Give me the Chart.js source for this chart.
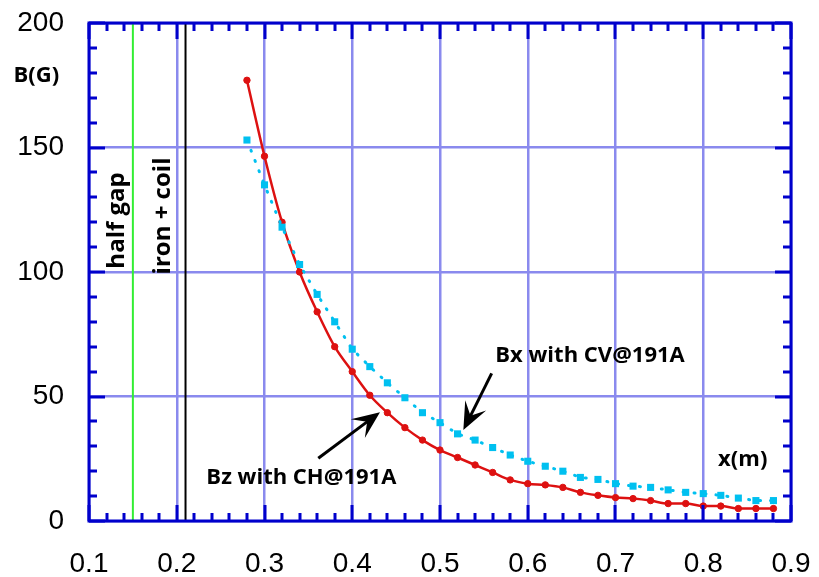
<!DOCTYPE html>
<html>
<head>
<meta charset="utf-8">
<script src="https://cdn.jsdelivr.net/npm/chart.js@4"></script>
<style>
  html, body { margin: 0; padding: 0; background: #fff; }
  #wrap { width: 819px; height: 577px; }
</style>
</head>
<body>
<div id="wrap"><canvas id="fieldChart"></canvas></div>
<script>
// measured positions (m)
const xPos = [0.28, 0.30, 0.32, 0.34, 0.36, 0.38, 0.40, 0.42, 0.44, 0.46, 0.48,
              0.50, 0.52, 0.54, 0.56, 0.58, 0.60, 0.62, 0.64, 0.66, 0.68,
              0.70, 0.72, 0.74, 0.76, 0.78, 0.80, 0.82, 0.84, 0.86, 0.88];
// Bz with CH@191A (G)
const bz = [177, 146.5, 120, 100, 84, 70, 60, 50.5, 43.5, 37.5, 32.5,
            28.5, 25.5, 22.5, 19.5, 16.5, 15, 14.5, 13.5, 11.5, 10.3,
            9.4, 9, 8.2, 7, 7, 6, 6, 5, 5, 5];
// Bx with CV@191A (G)
const bx = [153, 135, 118, 103, 91, 80, 69, 62, 55.5, 49.5, 43.5,
            39.5, 35, 32.5, 29.5, 26.5, 24, 22, 20, 17.5, 16.7,
            15, 14, 13.5, 12.5, 11.5, 11, 10.3, 9.2, 8.2, 8.2];
// boundary markers
const halfGapX = 0.15;
const ironCoilX = 0.21;

const axisBlue = '#0000cc';
const gridBlue = '#8a8aee';

const toPts = (xs, ys) => xs.map((x, i) => ({ x: x, y: ys[i] }));

// frame, inward ticks, text and arrows
const decor = {
  id: 'decor',
  afterDatasetsDraw(chart) {
    const { ctx, chartArea: a, scales: { x, y } } = chart;
    ctx.save();
    ctx.strokeStyle = axisBlue;
    ctx.lineWidth = 3;
    ctx.lineCap = 'butt';
    // x ticks every 0.02, major every 0.1
    for (let i = 0; i <= 40; i++) {
      const v = 0.1 + i * 0.02;
      const px = Math.round(x.getPixelForValue(v));
      const len = i % 5 === 0 ? 16 : 8;
      ctx.beginPath();
      ctx.moveTo(px, a.bottom); ctx.lineTo(px, a.bottom - len);
      ctx.moveTo(px, a.top); ctx.lineTo(px, a.top + len);
      ctx.stroke();
    }
    // y ticks every 10, major every 50
    for (let v = 0; v <= 200; v += 10) {
      const py = Math.round(y.getPixelForValue(v));
      const len = v % 50 === 0 ? 16 : 8;
      ctx.beginPath();
      ctx.moveTo(a.left, py); ctx.lineTo(a.left + len, py);
      ctx.moveTo(a.right, py); ctx.lineTo(a.right - len, py);
      ctx.stroke();
    }
    ctx.strokeRect(a.left, a.top, a.right - a.left, a.bottom - a.top);

    // labels
    ctx.fillStyle = '#000';
    ctx.textAlign = 'center';
    ctx.textBaseline = 'middle';
    ctx.font = 'bold 22px "Open Sans", sans-serif';
    const label = (t, vx, vy) => ctx.fillText(t, x.getPixelForValue(vx), y.getPixelForValue(vy));
    label('B(G)', 0.04, 179);
    label('x(m)', 0.845, 24.5);
    label('Bx with CV@191A', 0.671, 66.3);
    label('Bz with CH@191A', 0.342, 17.5);

    ctx.font = 'bold 24px "Open Sans", sans-serif';
    const vlabel = (t, vx, vy) => {
      ctx.save();
      ctx.translate(x.getPixelForValue(vx), y.getPixelForValue(vy));
      ctx.rotate(-Math.PI / 2);
      ctx.fillText(t, 0, 0);
      ctx.restore();
    };
    vlabel('half gap', 0.132, 120.7);
    vlabel('iron + coil', 0.184, 122.5);

    // arrows
    const arrow = (x1, y1, x2, y2) => {
      const sx = x.getPixelForValue(x1), sy = y.getPixelForValue(y1);
      const ex = x.getPixelForValue(x2), ey = y.getPixelForValue(y2);
      const ang = Math.atan2(ey - sy, ex - sx);
      const hl = 30, hw = 0.4;
      ctx.strokeStyle = '#000';
      ctx.lineWidth = 3;
      ctx.beginPath();
      ctx.moveTo(sx, sy);
      ctx.lineTo(ex - Math.cos(ang) * 12, ey - Math.sin(ang) * 12);
      ctx.stroke();
      ctx.beginPath();
      ctx.moveTo(ex, ey);
      ctx.lineTo(ex - hl * Math.cos(ang - hw), ey - hl * Math.sin(ang - hw));
      ctx.lineTo(ex - 16 * Math.cos(ang), ey - 16 * Math.sin(ang));
      ctx.lineTo(ex - hl * Math.cos(ang + hw), ey - hl * Math.sin(ang + hw));
      ctx.closePath();
      ctx.fill();
    };
    arrow(0.3613, 25.2, 0.4316, 43.7);
    arrow(0.5589, 59.3, 0.5266, 36.5);
    ctx.restore();
  }
};

new Chart(document.getElementById('fieldChart'), {
  type: 'scatter',
  data: {
    datasets: [
      {
        label: 'half gap',
        data: [{ x: halfGapX, y: 0 }, { x: halfGapX, y: 200 }],
        showLine: true,
        borderColor: '#33ee33',
        borderWidth: 2,
        pointRadius: 0
      },
      {
        label: 'iron + coil',
        data: [{ x: ironCoilX, y: 0 }, { x: ironCoilX, y: 200 }],
        showLine: true,
        borderColor: '#000000',
        borderWidth: 2,
        pointRadius: 0
      },
      {
        label: 'Bx with CV@191A',
        data: toPts(xPos, bx),
        showLine: true,
        borderColor: '#00c0f0',
        borderWidth: 3,
        borderDash: [1, 10],
        borderCapStyle: 'round',
        pointStyle: 'rect',
        pointRadius: 5,
        pointBackgroundColor: '#00c0f0',
        pointBorderWidth: 0
      },
      {
        label: 'Bz with CH@191A',
        data: toPts(xPos, bz),
        showLine: true,
        borderColor: '#dd1111',
        borderWidth: 2.5,
        cubicInterpolationMode: 'monotone',
        pointRadius: 3.2,
        pointBackgroundColor: '#dd1111',
        pointBorderColor: '#dd1111',
        pointBorderWidth: 1
      }
    ]
  },
  options: {
    responsive: true,
    maintainAspectRatio: false,
    animation: false,
    layout: { padding: { top: 23, right: 28, left: 0, bottom: 0 } },
    plugins: { legend: { display: false }, tooltip: { enabled: false } },
    scales: {
      x: {
        type: 'linear',
        min: 0.1, max: 0.9,
        afterFit: s => { s.height = 56; s.paddingLeft = 0; s.paddingRight = 0; },
        border: { display: false },
        grid: { color: gridBlue, lineWidth: 2.5, drawTicks: false },
        ticks: {
          stepSize: 0.1,
          padding: 26,
          color: '#000',
          font: { family: '"Liberation Sans", Arial, sans-serif', size: 28 },
          callback: v => v.toFixed(1)
        }
      },
      y: {
        min: 0, max: 200,
        afterFit: s => { s.width = 89; s.paddingTop = 0; s.paddingBottom = 0; },
        border: { display: false },
        grid: { color: gridBlue, lineWidth: 2.5, drawTicks: false },
        ticks: {
          stepSize: 50,
          padding: 25,
          color: '#000',
          font: { family: '"Liberation Sans", Arial, sans-serif', size: 28 }
        }
      }
    }
  },
  plugins: [decor]
});
</script>
</body>
</html>
